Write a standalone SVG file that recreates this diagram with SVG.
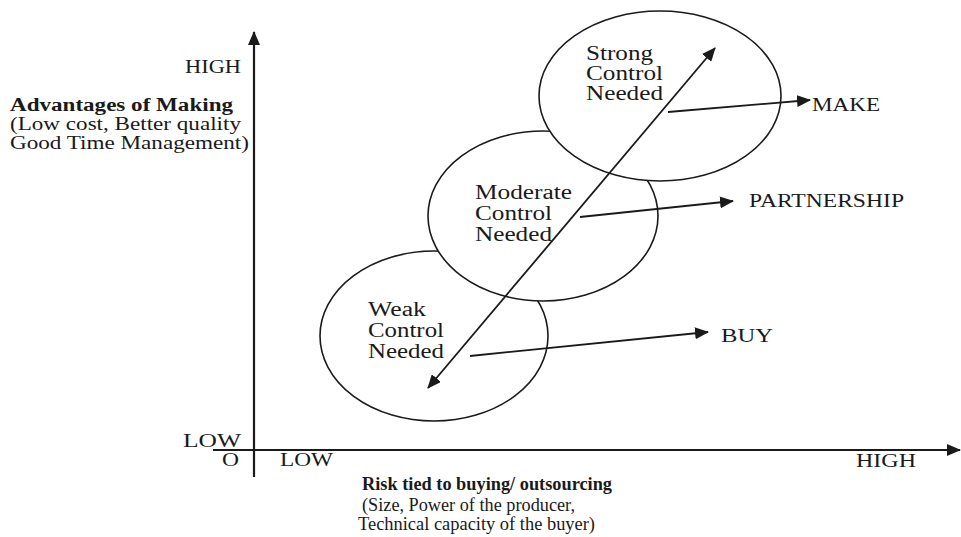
<svg xmlns="http://www.w3.org/2000/svg" width="961" height="537" viewBox="0 0 961 537">
<style>
text{font-family:"Liberation Serif","Times New Roman",serif;fill:#1a1a1a;font-size:18px}
.b{font-weight:bold}
.c{font-size:20px}
.ell{fill:#fff;stroke:#1a1a1a;stroke-width:1.6}
.ax{stroke:#1a1a1a;stroke-width:2.2;fill:none}
.ln{stroke:#1a1a1a;stroke-width:1.8;fill:none}
</style>
<defs>
<marker id="ah" viewBox="0 0 14 12" refX="13" refY="6" markerWidth="14" markerHeight="12" markerUnits="userSpaceOnUse" orient="auto-start-reverse">
<path d="M0,0 L14,6 L0,12 Z" fill="#1a1a1a"/>
</marker>
</defs>
<rect width="961" height="537" fill="#fff"/>
<g id="axes">
<line class="ax" x1="254" y1="477" x2="254" y2="32" marker-end="url(#ah)"/>
<line class="ax" x1="213" y1="450" x2="960" y2="450" marker-end="url(#ah)"/>
<text x="185" y="73" textLength="56" lengthAdjust="spacingAndGlyphs">HIGH</text>
<text class="b" x="10" y="111" textLength="223" lengthAdjust="spacingAndGlyphs">Advantages of Making</text>
<text x="10" y="130" textLength="231" lengthAdjust="spacingAndGlyphs">(Low cost, Better quality</text>
<text x="10" y="149" textLength="239" lengthAdjust="spacingAndGlyphs">Good Time Management)</text>
<text x="183" y="447" textLength="58" lengthAdjust="spacingAndGlyphs">LOW</text>
<text x="222" y="466" textLength="17" lengthAdjust="spacingAndGlyphs">O</text>
<text x="280" y="466" textLength="53" lengthAdjust="spacingAndGlyphs">LOW</text>
<text x="856" y="467" textLength="60" lengthAdjust="spacingAndGlyphs">HIGH</text>
<text class="b" x="362" y="490" textLength="250" lengthAdjust="spacingAndGlyphs">Risk tied to buying/ outsourcing</text>
<text x="362" y="511" textLength="213" lengthAdjust="spacingAndGlyphs">(Size, Power of the producer,</text>
<text x="358" y="530" textLength="237" lengthAdjust="spacingAndGlyphs">Technical capacity of the buyer)</text>
</g>
<g id="weak">
<ellipse class="ell" cx="434" cy="336" rx="114" ry="85"/>
<text class="c" x="368" y="316" textLength="58" lengthAdjust="spacingAndGlyphs">Weak</text>
<text class="c" x="368" y="337" textLength="76" lengthAdjust="spacingAndGlyphs">Control</text>
<text class="c" x="368" y="358" textLength="76" lengthAdjust="spacingAndGlyphs">Needed</text>
</g>
<g id="moderate">
<ellipse class="ell" cx="543" cy="216" rx="115" ry="85"/>
<text class="c" x="475" y="199" textLength="97" lengthAdjust="spacingAndGlyphs">Moderate</text>
<text class="c" x="475" y="220" textLength="77" lengthAdjust="spacingAndGlyphs">Control</text>
<text class="c" x="475" y="241" textLength="77" lengthAdjust="spacingAndGlyphs">Needed</text>
</g>
<g id="strong">
<ellipse class="ell" cx="660" cy="96" rx="121" ry="85"/>
<text class="c" x="586" y="60" textLength="67" lengthAdjust="spacingAndGlyphs">Strong</text>
<text class="c" x="586" y="80" textLength="77" lengthAdjust="spacingAndGlyphs">Control</text>
<text class="c" x="586" y="100" textLength="77" lengthAdjust="spacingAndGlyphs">Needed</text>
</g>
<g id="make"><text x="812" y="111" textLength="68" lengthAdjust="spacingAndGlyphs">MAKE</text></g>
<g id="partnership"><text x="749" y="207" textLength="155" lengthAdjust="spacingAndGlyphs">PARTNERSHIP</text></g>
<g id="buy"><text x="721" y="342" textLength="52" lengthAdjust="spacingAndGlyphs">BUY</text></g>
<g id="connectors">
<line class="ln" x1="428" y1="388" x2="715" y2="48" marker-start="url(#ah)" marker-end="url(#ah)"/>
<line class="ln" x1="668" y1="112" x2="810" y2="100" marker-end="url(#ah)"/>
<line class="ln" x1="580" y1="217" x2="733" y2="201" marker-end="url(#ah)"/>
<line class="ln" x1="470" y1="356" x2="708" y2="332" marker-end="url(#ah)"/>
</g>
</svg>
